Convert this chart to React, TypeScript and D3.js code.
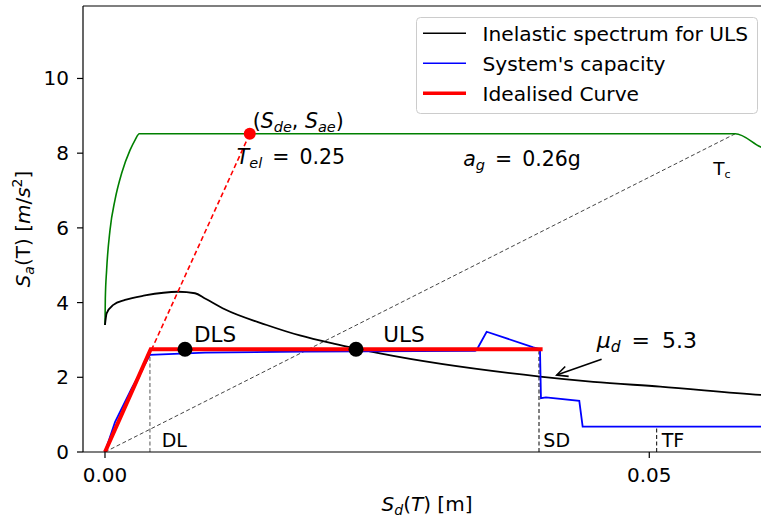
import React from 'react';
import * as d3 from 'd3';

// Elastic spectrum (green), Sd [m] vs Sa [m/s2]
const elasticSd = [0, 0.00003, 0.00015, 0.00046, 0.00092, 0.00153, 0.0023, 0.00276, 0.00315, 0.0579, 0.0602, 0.0612];
const elasticSa = [3.4, 4.1, 4.87, 5.94, 6.75, 7.46, 8.08, 8.35, 8.52, 8.52, 8.17, 8.03];

// Inelastic spectrum for ULS (black)
const inelasticSd = [0, 0.00015, 0.00077, 0.00184, 0.00367, 0.00673, 0.00827, 0.00919, 0.011, 0.01485, 0.0179, 0.021, 0.02306, 0.02526, 0.03996, 0.04486, 0.051, 0.0602, 0.0612];
const inelasticSa = [3.4, 3.71, 3.94, 4.07, 4.19, 4.29, 4.25, 4.11, 3.82, 3.4, 3.12, 2.9, 2.77, 2.64, 2.02, 1.88, 1.75, 1.53, 1.51];

// System's capacity (blue)
const capacitySd = [0, 0.00092, 0.00245, 0.00413, 0.0092, 0.0183, 0.034, 0.03414, 0.03506, 0.03935, 0.03996, 0.04005, 0.04051, 0.04357, 0.04388, 0.0612];
const capacitySa = [0, 0.8, 1.7, 2.6, 2.66, 2.69, 2.71, 2.73, 3.22, 2.8, 2.75, 1.44, 1.46, 1.37, 0.68, 0.68];

// Idealised bilinear curve (red)
const idealSd = [0, 0.0042, 0.0402];
const idealSa = [0, 2.75, 2.75];

// Points
const dlsPoint = [0.00735, 2.75];
const ulsPoint = [0.02306, 2.75];
const elasticPoint = [0.0133, 8.52];
const tcPoint = [0.0579, 8.52];

// Limit-state verticals
const limitLines = [
  { label: 'DL', sd: 0.00413, top: 2.62, textSd: 0.00521, color: '#555' },
  { label: 'SD', sd: 0.03987, top: 2.7, textSd: 0.04027, color: '#000' },
  { label: 'TF', sd: 0.05068, top: 0.63, textSd: 0.05114, color: '#000' },
];

const xTicks = [0, 0.05];
const yTicks = [0, 2, 4, 6, 8, 10];

const legendItems = [
  { label: 'Inelastic spectrum for ULS', color: '#000', width: 1.6 },
  { label: "System's capacity", color: '#0000ff', width: 1.6 },
  { label: 'Idealised Curve', color: '#ff0000', width: 3.5 },
];

const zip = (xs: number[], ys: number[]) => xs.map((v, i) => [v, ys[i]] as [number, number]);

const W = 761, H = 519;
const left = 83, right = 770, top = 6, bottom = 452;
const font = "'DejaVu Sans', sans-serif";

export default function App() {
  const x = d3.scaleLinear().domain([-0.00202, 0.06109]).range([left, right]);
  const y = d3.scaleLinear().domain([0, 11.94]).range([bottom, top]);
  const line = d3.line<[number, number]>().x(d => x(d[0])).y(d => y(d[1]));
  const smooth = d3.line<[number, number]>().x(d => x(d[0])).y(d => y(d[1])).curve(d3.curveMonotoneX);

  // arrow for mu_d annotation
  const tip = [x(0.0415), y(2.06)];
  const tail = [x(0.04562), y(2.48)];
  const ang = Math.atan2(tail[1] - tip[1], tail[0] - tip[0]);
  const arm = (a: number) => [tip[0] + 12 * Math.cos(ang + a), tip[1] + 12 * Math.sin(ang + a)];
  const a1 = arm(0.45), a2 = arm(-0.45);

  return (
    <svg width={W} height={H} style={{ position: 'absolute', left: 0, top: 0, background: '#fff' }} fontFamily={font}>
      <defs>
        <clipPath id="plot">
          <rect x={left} y={top} width={right - left} height={bottom - top} />
        </clipPath>
      </defs>

      <g clipPath="url(#plot)" fill="none">
        <path d={line([[0, 0], tcPoint as [number, number]]) || ''} stroke="#444" strokeWidth={1} strokeDasharray="4,2.5" />
        {limitLines.map(l => (
          <line key={l.label} x1={x(l.sd)} x2={x(l.sd)} y1={y(0)} y2={y(l.top)} stroke={l.color} strokeWidth={1} strokeDasharray="4,2.5" />
        ))}
        <path d={smooth(zip(elasticSd, elasticSa)) || ''} stroke="#008000" strokeWidth={1.6} />
        <path d={smooth(zip(inelasticSd, inelasticSa)) || ''} stroke="#000" strokeWidth={1.8} />
        <path d={line([[0, 0], elasticPoint as [number, number]]) || ''} stroke="#ff0000" strokeWidth={1.6} strokeDasharray="5,3" />
        <path d={line(zip(capacitySd, capacitySa)) || ''} stroke="#0000ff" strokeWidth={1.8} />
        <path d={line(zip(idealSd, idealSa)) || ''} stroke="#ff0000" strokeWidth={4} />
        <circle cx={x(elasticPoint[0])} cy={y(elasticPoint[1])} r={6} fill="#ff0000" />
        <circle cx={x(dlsPoint[0])} cy={y(dlsPoint[1])} r={7.5} fill="#000" />
        <circle cx={x(ulsPoint[0])} cy={y(ulsPoint[1])} r={7.5} fill="#000" />
      </g>

      {/* spines */}
      <g stroke="#000" strokeWidth={1.2}>
        <line x1={left} x2={left} y1={top} y2={bottom} />
        <line x1={left} x2={right} y1={bottom} y2={bottom} />
        <line x1={left} x2={right} y1={top} y2={top} />
        <line x1={right} x2={right} y1={top} y2={bottom} />
      </g>

      {/* ticks */}
      {xTicks.map(t => (
        <g key={t}>
          <line x1={x(t)} x2={x(t)} y1={bottom} y2={bottom + 6} stroke="#000" strokeWidth={1.2} />
          <text x={x(t)} y={bottom + 30} textAnchor="middle" fontSize={20}>{d3.format('.2f')(t)}</text>
        </g>
      ))}
      {yTicks.map(t => (
        <g key={t}>
          <line x1={left - 6} x2={left} y1={y(t)} y2={y(t)} stroke="#000" strokeWidth={1.2} />
          <text x={left - 14} y={y(t) + 7} textAnchor="end" fontSize={20}>{t}</text>
        </g>
      ))}

      {/* axis labels */}
      <text x={427} y={511} textAnchor="middle" fontSize={20}>
        <tspan fontStyle="italic">S</tspan>
        <tspan fontStyle="italic" fontSize={14} dy={4}>d</tspan>
        <tspan dy={-4}>(</tspan>
        <tspan fontStyle="italic">T</tspan>
        <tspan>) [m]</tspan>
      </text>
      <text transform={`translate(30,${(top + bottom) / 2}) rotate(-90)`} textAnchor="middle" fontSize={20}>
        <tspan fontStyle="italic">S</tspan>
        <tspan fontStyle="italic" fontSize={14} dy={4}>a</tspan>
        <tspan dy={-4}>(T) [</tspan>
        <tspan fontStyle="italic">m</tspan>
        <tspan>/</tspan>
        <tspan fontStyle="italic">s</tspan>
        <tspan fontSize={14} dy={-8}>2</tspan>
        <tspan dy={8}>]</tspan>
      </text>

      {/* annotations */}
      <text x={x(0.01357)} y={y(8.67)} fontSize={20.5}>
        <tspan>(</tspan>
        <tspan fontStyle="italic">S</tspan>
        <tspan fontStyle="italic" fontSize={14.5} dy={4}>de</tspan>
        <tspan dy={-4}>, </tspan>
        <tspan fontStyle="italic">S</tspan>
        <tspan fontStyle="italic" fontSize={14.5} dy={4}>ae</tspan>
        <tspan dy={-4}>)</tspan>
      </text>
      <text x={x(0.0121)} y={y(7.71)} fontSize={20.5}>
        <tspan fontStyle="italic">T</tspan>
        <tspan fontStyle="italic" fontSize={14.5} dy={4}>el</tspan>
        <tspan dy={-4} dx={10}>=</tspan>
        <tspan dx={10}>0.25</tspan>
      </text>
      <text x={x(0.03291)} y={y(7.66)} fontSize={20.5}>
        <tspan fontStyle="italic">a</tspan>
        <tspan fontStyle="italic" fontSize={14.5} dy={4}>g</tspan>
        <tspan dy={-4} dx={10}>=</tspan>
        <tspan dx={10}>0.26g</tspan>
      </text>
      <text x={x(0.05588)} y={y(7.42)} fontSize={18.5}>
        <tspan>T</tspan>
        <tspan fontSize={11} dy={3}>c</tspan>
      </text>
      <text x={x(0.00818)} y={y(2.95)} fontSize={21.5}>DLS</text>
      <text x={x(0.02557)} y={y(2.95)} fontSize={21.5}>ULS</text>
      <text x={x(0.04517)} y={y(2.78)} fontSize={22}>
        <tspan fontStyle="italic">μ</tspan>
        <tspan fontStyle="italic" fontSize={15.5} dy={4}>d</tspan>
        <tspan dy={-4} dx={11}>=</tspan>
        <tspan dx={12}>5.3</tspan>
      </text>
      <g stroke="#000" strokeWidth={1.6} fill="none">
        <line x1={tail[0]} y1={tail[1]} x2={tip[0]} y2={tip[1]} />
        <polyline points={`${a1[0]},${a1[1]} ${tip[0]},${tip[1]} ${a2[0]},${a2[1]}`} />
      </g>
      {limitLines.map(l => (
        <text key={l.label} x={x(l.textSd)} y={bottom - 5} fontSize={19}>{l.label}</text>
      ))}

      {/* legend */}
      <g>
        <rect x={416.5} y={17.5} width={341} height={96} rx={4} fill="#fff" fillOpacity={0.8} stroke="#ccc" />
        {legendItems.map((d, i) => (
          <g key={d.label} transform={`translate(0,${33.3 + i * 30})`}>
            <line x1={423} x2={466} y1={0} y2={0} stroke={d.color} strokeWidth={d.width} />
            <text x={482.5} y={7.3} fontSize={20.2}>{d.label}</text>
          </g>
        ))}
      </g>
    </svg>
  );
}
